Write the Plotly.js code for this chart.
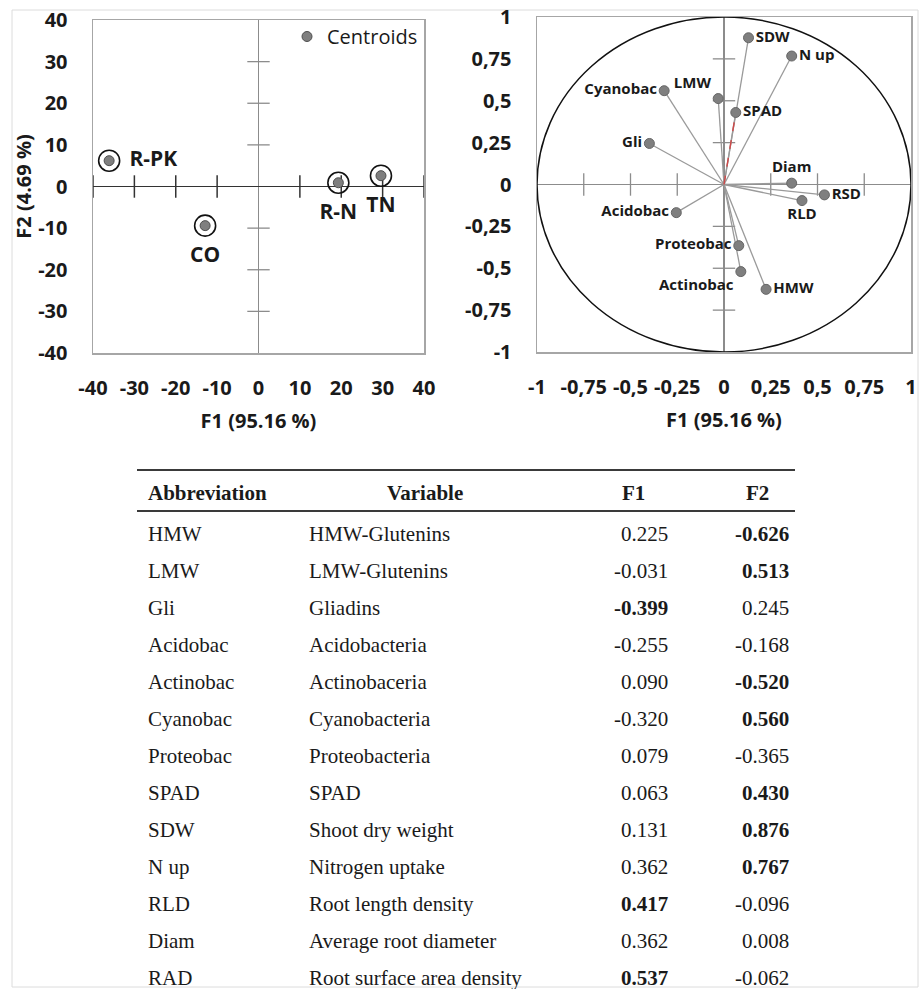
<!DOCTYPE html>
<html><head><meta charset="utf-8">
<script src="https://cdn.plot.ly/plotly-3.0.1.min.js"></script>
<style>html,body{margin:0;padding:0;background:#fff;} #chart{width:921px;height:989px;}</style>
</head><body><div id="chart"></div>
<script>
// ---------- DATA ----------
// Observations (centroids) plot
const centroidLabels = ['R-PK', 'CO', 'R-N', 'TN'];
const centroidF1 = [-36.1, -12.9, 19.3, 29.6];
const centroidF2 = [6.2, -9.4, 0.9, 2.6];
const obsTicks = [-40, -30, -20, -10, 0, 10, 20, 30, 40];
const obsTickText = ['-40', '-30', '-20', '-10', '0', '10', '20', '30', '40'];

// Variables (correlation circle) and table
const abbrev = ['HMW', 'LMW', 'Gli', 'Acidobac', 'Actinobac', 'Cyanobac', 'Proteobac', 'SPAD', 'SDW', 'N up', 'RLD', 'Diam', 'RAD'];
const plotLabels = ['HMW', 'LMW', 'Gli', 'Acidobac', 'Actinobac', 'Cyanobac', 'Proteobac', 'SPAD', 'SDW', 'N up', 'RLD', 'Diam', 'RSD'];
const variableNames = ['HMW-Glutenins', 'LMW-Glutenins', 'Gliadins', 'Acidobacteria', 'Actinobaceria', 'Cyanobacteria', 'Proteobacteria', 'SPAD', 'Shoot dry weight', 'Nitrogen uptake', 'Root length density', 'Average root diameter', 'Root surface area density'];
const loadF1 = [0.225, -0.031, -0.399, -0.255, 0.090, -0.320, 0.079, 0.063, 0.131, 0.362, 0.417, 0.362, 0.537];
const loadF2 = [-0.626, 0.513, 0.245, -0.168, -0.520, 0.560, -0.365, 0.430, 0.876, 0.767, -0.096, 0.008, -0.062];
const boldF1 = [0, 0, 1, 0, 0, 0, 0, 0, 0, 0, 1, 0, 1];
const boldF2 = [1, 1, 0, 0, 1, 1, 0, 1, 1, 1, 0, 0, 0];
const corTicks = [-1, -0.75, -0.5, -0.25, 0, 0.25, 0.5, 0.75, 1];
const corTickText = ['-1', '-0,75', '-0,5', '-0,25', '0', '0,25', '0,5', '0,75', '1'];

const xTitle = 'F1 (95.16 %)';
const yTitle = 'F2 (4.69 %)';
const legendName = 'Centroids';
const tableHeaders = ['Abbreviation', 'Variable', 'F1', 'F2'];

// ---------- LAYOUT HELPERS ----------
const W = 921, H = 989;
const px = v => v / W;
const py = v => 1 - v / H;
const SANS = 'Open Sans, Noto Sans, sans-serif';
const SERIF = 'Liberation Serif, Times New Roman, serif';
const TXT = '#1a1a1a';

const obsInner = obsTicks.filter(v => v !== 0);
const obsInnerY = obsTicks.filter(v => v !== 0 && Math.abs(v) !== 40);
const corInner = corTicks.filter(v => v !== 0 && Math.abs(v) !== 1);

const traces = [];

// Left plot: tick marks on zero lines
traces.push({
  x: obsInner, y: obsInner.map(() => 0), xaxis: 'x', yaxis: 'y', mode: 'markers',
  marker: {symbol: 'line-ns', size: 16, line: {color: '#333333', width: 1.5}},
  hoverinfo: 'skip', showlegend: false
});
traces.push({
  x: obsInnerY.map(() => 0), y: obsInnerY, xaxis: 'x', yaxis: 'y', mode: 'markers',
  marker: {symbol: 'line-ew', size: 16, line: {color: '#8c8c8c', width: 1.3}},
  hoverinfo: 'skip', showlegend: false
});
// rings
traces.push({
  x: centroidF1, y: centroidF2, xaxis: 'x', yaxis: 'y', mode: 'markers',
  marker: {symbol: 'circle-open', size: 21, color: '#111111', line: {color: '#111111', width: 1.6}},
  hoverinfo: 'skip', showlegend: false
});
// labels (transparent marker sets the label offset)
traces.push({
  x: centroidF1, y: centroidF2, text: centroidLabels, xaxis: 'x', yaxis: 'y',
  mode: 'markers+text',
  textposition: ['middle right', 'bottom center', 'bottom center', 'bottom center'],
  textfont: {family: SANS, size: 21, color: TXT, weight: 'bold'},
  marker: {symbol: 'circle', size: 31, color: 'rgba(0,0,0,0)'},
  hoverinfo: 'skip', showlegend: false
});
traces.push({
  x: centroidF1, y: centroidF2, xaxis: 'x', yaxis: 'y', mode: 'markers', name: legendName,
  marker: {symbol: 'circle', size: 10, color: '#7f7f7f', line: {color: '#4d4d4d', width: 1}},
  showlegend: true
});

// Right plot: tick marks on zero lines
traces.push({
  x: corInner, y: corInner.map(() => 0), xaxis: 'x2', yaxis: 'y2', mode: 'markers',
  marker: {symbol: 'line-ns', size: 16, line: {color: '#8c8c8c', width: 1.3}},
  hoverinfo: 'skip', showlegend: false
});
traces.push({
  x: corInner.map(() => 0), y: corInner, xaxis: 'x2', yaxis: 'y2', mode: 'markers',
  marker: {symbol: 'line-ew', size: 16, line: {color: '#8c8c8c', width: 1.3}},
  hoverinfo: 'skip', showlegend: false
});
// vectors
const vx = [], vy = [];
loadF1.forEach((v, i) => { vx.push(0, v, null); vy.push(0, loadF2[i], null); });
traces.push({
  x: vx, y: vy, xaxis: 'x2', yaxis: 'y2', mode: 'lines',
  line: {color: '#9a9a9a', width: 1.3}, hoverinfo: 'skip', showlegend: false
});
const iSpad = plotLabels.indexOf('SPAD');
traces.push({
  x: [0, loadF1[iSpad]], y: [0, loadF2[iSpad]], xaxis: 'x2', yaxis: 'y2', mode: 'lines',
  line: {color: '#d04848', width: 1.4, dash: 'dash'}, hoverinfo: 'skip', showlegend: false
});
traces.push({
  x: loadF1, y: loadF2, text: plotLabels, xaxis: 'x2', yaxis: 'y2', mode: 'markers+text',
  textposition: ['middle right', 'top left', 'middle left', 'middle left', 'bottom left', 'middle left',
                 'middle left', 'middle right', 'middle right', 'middle right', 'bottom center', 'top center', 'middle right'],
  textfont: {family: SANS, size: 15, color: TXT, weight: 'bold'},
  marker: {symbol: 'circle', size: 10, color: '#7f7f7f', line: {color: '#666666', width: 1}},
  hoverinfo: 'skip', showlegend: false
});

// ---------- TABLE (annotations) ----------
const annotations = [];
const headerY = 493;
const rowY = i => 534 + i * 37.0;
const colAbbrev = 146, colVar = 307, colF1 = 670, colF2 = 791;
const tfont = b => ({family: SERIF, size: 21, color: TXT, weight: b ? 'bold' : 'normal'});
const hdrPos = [[colAbbrev, 'left'], [425, 'center'], [633, 'center'], [757, 'center']];
tableHeaders.forEach((h, k) => {
  annotations.push({xref: 'paper', yref: 'paper', x: px(hdrPos[k][0]), y: py(headerY),
    xanchor: hdrPos[k][1], yanchor: 'middle', text: h, showarrow: false, font: tfont(true)});
});
abbrev.forEach((a, i) => {
  const y = py(rowY(i));
  annotations.push({xref: 'paper', yref: 'paper', x: px(colAbbrev), y, xanchor: 'left', yanchor: 'middle',
    text: a, showarrow: false, font: tfont(false)});
  annotations.push({xref: 'paper', yref: 'paper', x: px(colVar), y, xanchor: 'left', yanchor: 'middle',
    text: variableNames[i], showarrow: false, font: tfont(false)});
  annotations.push({xref: 'paper', yref: 'paper', x: px(colF1), y, xanchor: 'right', yanchor: 'middle',
    text: loadF1[i].toFixed(3), showarrow: false, font: tfont(boldF1[i])});
  annotations.push({xref: 'paper', yref: 'paper', x: px(colF2), y, xanchor: 'right', yanchor: 'middle',
    text: loadF2[i].toFixed(3), showarrow: false, font: tfont(boldF2[i])});
});

const shapes = [
  // outer light frame
  {type: 'rect', xref: 'paper', yref: 'paper', x0: px(12), x1: px(918), y0: py(987), y1: py(10),
   line: {color: '#dcdcdc', width: 1}, layer: 'below'},
  // correlation circle
  {type: 'circle', xref: 'x2', yref: 'y2', x0: -1, x1: 1, y0: -1, y1: 1, line: {color: '#111111', width: 1.5}},
  // table rules
  {type: 'line', xref: 'paper', yref: 'paper', x0: px(137), x1: px(795), y0: py(470), y1: py(470),
   line: {color: '#3a3a3a', width: 2}},
  {type: 'line', xref: 'paper', yref: 'paper', x0: px(137), x1: px(795), y0: py(511), y1: py(511),
   line: {color: '#3a3a3a', width: 2}}
];

const tickFont = {family: SANS, size: 20, color: TXT, weight: 'bold'};
const titleFont = {family: SANS, size: 20, color: TXT, weight: 'bold'};
const frame = {showline: true, mirror: true, linecolor: '#a6a6a6', linewidth: 1.5, showgrid: false, ticks: ''};

const layout = {
  width: W, height: H, margin: {l: 0, r: 0, t: 0, b: 0},
  paper_bgcolor: '#ffffff', plot_bgcolor: '#ffffff',
  showlegend: true,
  legend: {x: px(287), y: py(17), xanchor: 'left', yanchor: 'top', bgcolor: 'rgba(0,0,0,0)',
    font: {family: SANS, size: 20, color: TXT}},
  xaxis: Object.assign({}, frame, {
    domain: [px(93), px(424)], range: [-40, 40], anchor: 'y',
    tickmode: 'array', tickvals: obsTicks, ticktext: obsTickText, tickfont: tickFont, ticklabelstandoff: 16,
    zeroline: true, zerolinecolor: '#8c8c8c', zerolinewidth: 1.3,
    title: {text: xTitle, font: titleFont, standoff: 14}
  }),
  yaxis: Object.assign({}, frame, {
    domain: [py(353), py(20)], range: [-40, 40], anchor: 'x',
    tickmode: 'array', tickvals: obsTicks, ticktext: obsTickText, tickfont: tickFont, ticklabelstandoff: 20,
    zeroline: true, zerolinecolor: '#333333', zerolinewidth: 1.8,
    title: {text: yTitle, font: titleFont, standoff: 1}
  }),
  xaxis2: Object.assign({}, frame, {
    domain: [px(537), px(911)], range: [-1, 1], anchor: 'y2',
    tickmode: 'array', tickvals: corTicks, ticktext: corTickText, tickfont: tickFont, ticklabelstandoff: 16,
    zeroline: true, zerolinecolor: '#8c8c8c', zerolinewidth: 1.3,
    title: {text: xTitle, font: titleFont, standoff: 14}
  }),
  yaxis2: Object.assign({}, frame, {
    domain: [py(352), py(17)], range: [-1, 1], anchor: 'x2',
    tickmode: 'array', tickvals: corTicks, ticktext: corTickText, tickfont: tickFont, ticklabelstandoff: 20,
    zeroline: true, zerolinecolor: '#8c8c8c', zerolinewidth: 1.3
  }),
  shapes: shapes,
  annotations: annotations
};

Plotly.newPlot('chart', traces, layout, {displayModeBar: false, staticPlot: true});
</script>
</body></html>
